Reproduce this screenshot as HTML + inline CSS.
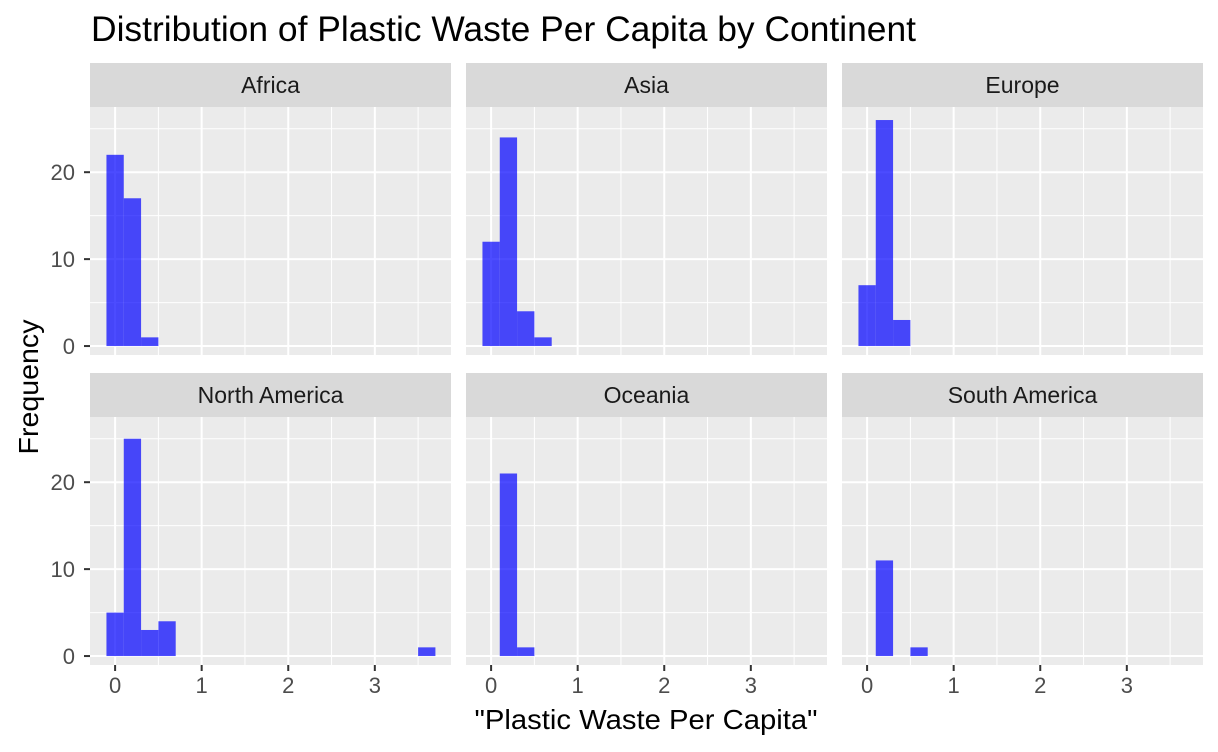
<!DOCTYPE html>
<html><head><meta charset="utf-8"><style>
body{margin:0;background:#fff;}
svg{display:block;font-family:"Liberation Sans",sans-serif;}
</style></head><body>
<svg id="chart" width="1218" height="752" xmlns="http://www.w3.org/2000/svg">
<text x="91" y="41" font-size="35" fill="#000" textLength="825" lengthAdjust="spacingAndGlyphs">Distribution of Plastic Waste Per Capita by Continent</text>
<text x="646" y="729" font-size="28" text-anchor="middle" fill="#000" textLength="343" lengthAdjust="spacingAndGlyphs">"Plastic Waste Per Capita"</text>
<text transform="translate(38,387) rotate(-90)" font-size="28" text-anchor="middle" fill="#000" textLength="135" lengthAdjust="spacingAndGlyphs">Frequency</text>
<g id="panels"></g>
</svg>
<script>
const continents = ["Africa","Asia","Europe","North America","Oceania","South America"];
const binCenters = [0,0.2,0.4,0.6,3.6];
const africaCounts = [22,17,1,0,0];
const asiaCounts = [12,24,4,1,0];
const europeCounts = [7,26,3,0,0];
const northAmericaCounts = [5,25,3,4,1];
const oceaniaCounts = [0,21,1,0,0];
const southAmericaCounts = [0,11,0,1,0];
const binWidth = 0.2;
const xTicks = [0,1,2,3];
const yTicks = [0,10,20];
const allCounts = [africaCounts,asiaCounts,europeCounts,northAmericaCounts,oceaniaCounts,southAmericaCounts];

const NS="http://www.w3.org/2000/svg";
const g=document.getElementById('panels');
function mk(tag,attrs,parent){const e=document.createElementNS(NS,tag);for(const k in attrs)e.setAttribute(k,attrs[k]);parent.appendChild(e);return e;}
const colX=[90,466,842], rowY=[107,417], pw=361, ph=248;
const xmin=-0.29, xmax=3.88, ymin=-1.03, ymax=27.5;
continents.forEach((name,i)=>{
  const c=i%3, r=Math.floor(i/3);
  const left=colX[c], top=rowY[r];
  const sx=v=>left+(v-xmin)/(xmax-xmin)*pw;
  const sy=v=>top+ph-(v-ymin)/(ymax-ymin)*ph;
  const p=mk('g',{},g);
  
  
  const strip=mk('rect',{x:left,y:top-44,width:pw,height:44,fill:'#d9d9d9'},p);
  
  
  const st=mk('text',{x:left+pw/2,y:top-14,'font-size':23,'text-anchor':'middle',fill:'#1a1a1a'},p);
  st.textContent=name;
  
  
  const bg=mk('rect',{x:left,y:top,width:pw,height:ph,fill:'#ebebeb'},p);
  
  
  [0.5,1.5,2.5,3.5].forEach(v=>mk('line',{x1:sx(v),x2:sx(v),y1:top,y2:top+ph,stroke:'#fff','stroke-width':1},p));
  [5,15,25].forEach(v=>mk('line',{x1:left,x2:left+pw,y1:sy(v),y2:sy(v),stroke:'#fff','stroke-width':1},p));
  xTicks.forEach(v=>mk('line',{x1:sx(v),x2:sx(v),y1:top,y2:top+ph,stroke:'#fff','stroke-width':2},p));
  yTicks.forEach(v=>mk('line',{x1:left,x2:left+pw,y1:sy(v),y2:sy(v),stroke:'#fff','stroke-width':2},p));
  allCounts[i].forEach((n,j)=>{
    if(!n)return;
    const b=mk('rect',{x:sx(binCenters[j]-binWidth/2),y:sy(n),width:sx(binWidth)-sx(0),height:sy(0)-sy(n),fill:'rgba(0,0,255,0.7)'},p);
    
    
  });
  if(c===0){
    yTicks.forEach(v=>{
      mk('line',{x1:left-6,x2:left,y1:sy(v),y2:sy(v),stroke:'#333','stroke-width':2},p);
      const t=mk('text',{x:left-15,y:sy(v)+8,'font-size':22,'text-anchor':'end',fill:'#4d4d4d'},p);
      t.textContent=v;
      
      
    });
  }
  if(r===1){
    xTicks.forEach(v=>{
      mk('line',{x1:sx(v),x2:sx(v),y1:top+ph,y2:top+ph+6,stroke:'#333','stroke-width':2},p);
      const t=mk('text',{x:sx(v),y:top+ph+28,'font-size':22,'text-anchor':'middle',fill:'#4d4d4d'},p);
      t.textContent=v;
      
      
    });
  }
});
</script>
</body></html>
